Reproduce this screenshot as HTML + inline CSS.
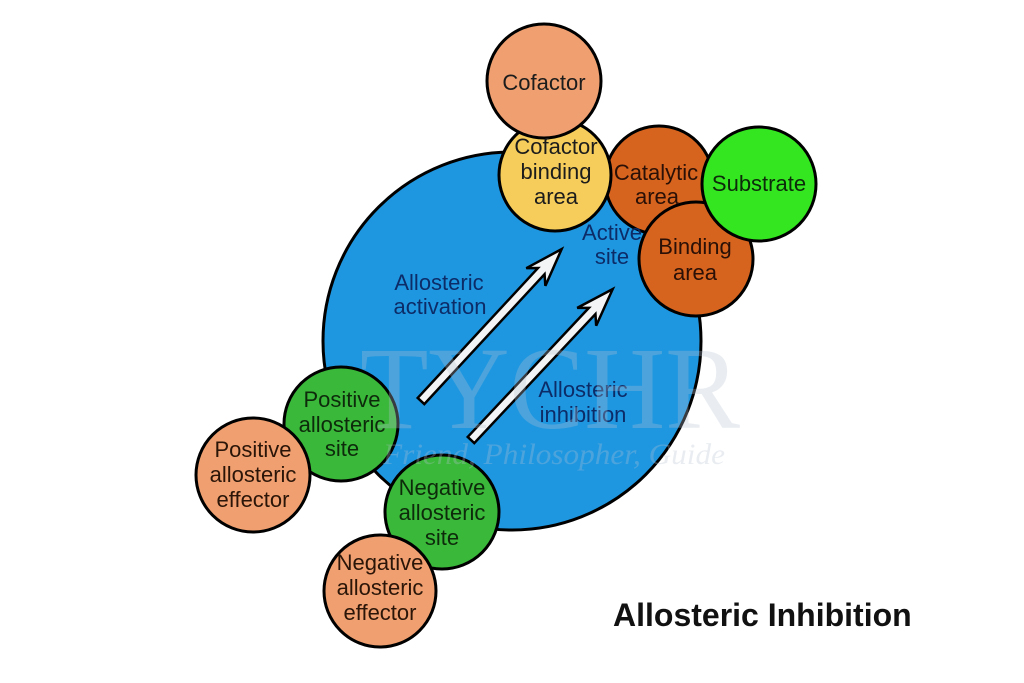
<!DOCTYPE html>
<html>
<head>
<meta charset="utf-8">
<style>
html,body{margin:0;padding:0;background:#fff;}
svg{display:block;}
.s{font-family:"Liberation Sans",Arial,sans-serif;}
.w{font-family:"Liberation Serif","DejaVu Serif",serif;}
</style>
</head>
<body>
<svg width="1024" height="683" viewBox="0 0 1024 683" xmlns="http://www.w3.org/2000/svg">
  <rect width="1024" height="683" fill="#ffffff"/>
  <g stroke="#000" stroke-width="3">
    <circle cx="512" cy="341" r="189" fill="#1f97e0"/>
    <circle cx="659" cy="180" r="54" fill="#d6641e"/>
    <circle cx="555" cy="175" r="56" fill="#f6cd5a"/>
    <circle cx="544" cy="81" r="57" fill="#f0a070"/>
    <circle cx="696" cy="259" r="57" fill="#d6641e"/>
    <circle cx="759" cy="184" r="57" fill="#33e61f"/>
    <circle cx="341" cy="424" r="57" fill="#3ab83a"/>
    <circle cx="253" cy="475" r="57" fill="#f0a070"/>
    <circle cx="442" cy="512" r="57" fill="#3ab83a"/>
    <circle cx="380" cy="591" r="56" fill="#f0a070"/>
  </g>
  <!-- arrows -->
  <g fill="#f2f4f5" stroke="#000" stroke-width="2.5" stroke-linejoin="miter">
    <polygon transform="translate(421,401) rotate(-47.2)" points="0,-4.5 177,-4.5 169,-13 207,0 169,13 177,4.5 0,4.5"/>
    <polygon transform="translate(471,440) rotate(-46.8)" points="0,-4.5 177,-4.5 169,-13 207,0 169,13 177,4.5 0,4.5"/>
  </g>
  <!-- labels in circles -->
  <g class="s" font-size="22" text-anchor="middle" fill="#1c1c1c">
    <text x="544" y="90">Cofactor</text>
    <text x="556" y="154">Cofactor</text>
    <text x="556" y="179">binding</text>
    <text x="556" y="204">area</text>
    <text x="656" y="180" fill="#2a1006">Catalytic</text>
    <text x="657" y="204" fill="#2a1006">area</text>
    <text x="759" y="191" fill="#0d2a0b">Substrate</text>
    <text x="695" y="254" fill="#2a1006">Binding</text>
    <text x="695" y="280" fill="#2a1006">area</text>
    <text x="342" y="407" fill="#0d2a0b">Positive</text>
    <text x="342" y="432" fill="#0d2a0b">allosteric</text>
    <text x="342" y="456" fill="#0d2a0b">site</text>
    <text x="253" y="457" fill="#2a1508">Positive</text>
    <text x="253" y="482" fill="#2a1508">allosteric</text>
    <text x="253" y="507" fill="#2a1508">effector</text>
    <text x="442" y="495" fill="#0d2a0b">Negative</text>
    <text x="442" y="520" fill="#0d2a0b">allosteric</text>
    <text x="442" y="545" fill="#0d2a0b">site</text>
    <text x="380" y="570" fill="#2a1508">Negative</text>
    <text x="380" y="595" fill="#2a1508">allosteric</text>
    <text x="380" y="620" fill="#2a1508">effector</text>
  </g>
  <!-- labels on blue -->
  <g class="s" font-size="22" text-anchor="middle" fill="#0c2c68">
    <text x="612" y="240">Active</text>
    <text x="612" y="264">site</text>
    <text x="439" y="290">Allosteric</text>
    <text x="440" y="314">activation</text>
    <text x="583" y="397">Allosteric</text>
    <text x="583" y="422">inhibition</text>
  </g>
  <!-- watermark -->
  <g class="w" fill="#b8c4d4" opacity="0.3">
    <text class="w" x="550" y="428" font-size="118" text-anchor="middle" textLength="380" lengthAdjust="spacingAndGlyphs">TYCHR</text>
    <text class="w" x="554" y="464" font-size="30" font-style="italic" text-anchor="middle" textLength="342" lengthAdjust="spacingAndGlyphs">Friend, Philosopher, Guide</text>
  </g>
  <!-- title -->
  <text class="s" x="613" y="626" font-size="32" font-weight="bold" fill="#111">Allosteric Inhibition</text>
</svg>
</body>
</html>
